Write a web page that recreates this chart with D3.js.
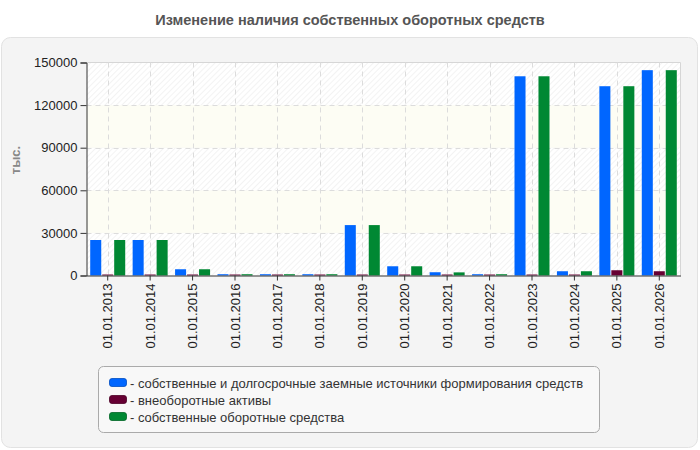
<!DOCTYPE html>
<html><head><meta charset="utf-8">
<script src="https://cdn.jsdelivr.net/npm/d3@7"></script>
<style>
html,body{margin:0;padding:0;background:#fff;}
text{font-family:"Liberation Sans",Arial,sans-serif;}
</style></head>
<body>
<svg id="chart" width="700" height="450"></svg>
<script>
const categories = ["01.01.2013","01.01.2014","01.01.2015","01.01.2016","01.01.2017","01.01.2018","01.01.2019","01.01.2020","01.01.2021","01.01.2022","01.01.2023","01.01.2024","01.01.2025","01.01.2026"];
const seriesNames = ["собственные и долгосрочные заемные источники формирования средств","внеоборотные активы","собственные оборотные средства"];
const seriesColors = ["#0066ff","#660033","#008833"];
const ownSources = [25000,25000,4400,900,900,900,35500,6500,2300,900,140300,3000,133300,144600];
const nonCurrent = [700,700,700,700,700,700,700,700,700,700,700,700,3700,3000];
const ownWorking = [25000,25000,4400,900,900,900,35500,6500,2200,900,140300,3000,133300,144600];
const yTicks = [0,30000,60000,90000,120000,150000];
const title = "Изменение наличия собственных оборотных средств";
const yLabel = "тыс.";

const series = [ownSources, nonCurrent, ownWorking];
const svg = d3.select("#chart");
const m = {left:86.5, right:680.5, top:62.5, bottom:275.5};

// panel
svg.append("rect").attr("x",1.5).attr("y",37.5).attr("width",696).attr("height",410)
  .attr("rx",9).attr("fill","#f4f4f4").attr("stroke","#e2e2e2");

svg.append("text").attr("x",350).attr("y",25).attr("text-anchor","middle")
  .attr("font-size",14.5).attr("font-weight","bold").attr("fill","#555").text(title);

const defs = svg.append("defs");
const pat = defs.append("pattern").attr("id","hatch").attr("patternUnits","userSpaceOnUse")
  .attr("width",4).attr("height",4).attr("patternTransform","rotate(45)");
pat.append("rect").attr("width",4).attr("height",4).attr("fill","#ffffff");
pat.append("line").attr("x1",0).attr("y1",0).attr("x2",0).attr("y2",4)
  .attr("stroke","#ebebeb").attr("stroke-width",1.2);

const x0 = d3.scaleBand().domain(categories).range([m.left,m.right]).paddingInner(0.175).paddingOuter(0.0875);
const x1 = d3.scaleBand().domain([0,1,2]).range([0,x0.bandwidth()]).paddingInner(0.08);
const y = d3.scaleLinear().domain([0,150000]).range([m.bottom,m.top]);

// bands
for (let i=0;i<yTicks.length-1;i++){
  svg.append("rect").attr("x",m.left).attr("width",m.right-m.left)
    .attr("y",y(yTicks[i+1])).attr("height",y(yTicks[i])-y(yTicks[i+1]))
    .attr("fill", i%2===0 ? "url(#hatch)" : "#fdfdf4");
}
svg.append("path").attr("d",`M${m.left},${m.top}H${m.right}V${m.bottom}`)
  .attr("fill","none").attr("stroke","#d6d6d6");

// grid
const grid = svg.append("g");
yTicks.slice(1,-1).forEach(t=>{
  grid.append("line").attr("x1",m.left).attr("x2",m.right).attr("y1",Math.round(y(t))+0.5).attr("y2",Math.round(y(t))+0.5)
   .attr("stroke","#dcdcdc").attr("stroke-dasharray","5,4");
});
categories.forEach(c=>{
  const cx = Math.round(x0(c)+x0.bandwidth()/2)+0.5;
  grid.append("line").attr("x1",cx).attr("x2",cx).attr("y1",m.top).attr("y2",m.bottom)
   .attr("stroke","#dcdcdc").attr("stroke-dasharray","5,4");
});

// bars
series.forEach((vals,si)=>{
  svg.append("g").selectAll("rect").data(vals).join("rect")
    .attr("x",(d,i)=>x0(categories[i])+x1(si))
    .attr("width",x1.bandwidth())
    .attr("y",d=>y(d)).attr("height",d=>m.bottom-y(d))
    .attr("fill",seriesColors[si]);
});

// axes
const yAxis = svg.append("g").attr("transform",`translate(${m.left},0)`)
  .call(d3.axisLeft(y).tickValues(yTicks).tickSize(6).tickPadding(3).tickFormat(d3.format("d")));
yAxis.select(".domain").attr("stroke","#333");
yAxis.selectAll(".tick line").attr("stroke","#333");
yAxis.selectAll("text").attr("font-size",13).attr("fill","#222").attr("font-family","Liberation Sans, Arial, sans-serif");

const xAxis = svg.append("g").attr("transform",`translate(0,${m.bottom})`)
  .call(d3.axisBottom(x0).tickSize(5).tickSizeOuter(0));
xAxis.select(".domain").attr("stroke","#333");
xAxis.selectAll(".tick line").attr("stroke","#333");
xAxis.selectAll("text").attr("font-size",13).attr("fill","#222")
  .attr("font-family","Liberation Sans, Arial, sans-serif")
  .attr("transform","rotate(-90)").attr("text-anchor","end")
  .attr("x",-8).attr("y",0).attr("dy","0.35em");

svg.append("text").attr("transform","translate(20,160) rotate(-90)").attr("text-anchor","middle")
  .attr("font-size",13).attr("font-weight","bold").attr("fill","#888").text(yLabel);

// legend
const lg = svg.append("g");
lg.append("rect").attr("x",98.5).attr("y",366.5).attr("width",501).attr("height",66).attr("rx",5)
  .attr("fill","#f8f8f8").attr("stroke","#aaa");
seriesNames.forEach((n,i)=>{
  const yy = 383 + i*17;
  lg.append("rect").attr("x",109.5).attr("y",yy-4.5).attr("width",17).attr("height",8).attr("rx",2.5)
    .attr("fill",seriesColors[i]).attr("stroke",d3.color(seriesColors[i]).darker(0.8)).attr("stroke-width",0.8);
  lg.append("text").attr("x",130).attr("y",yy).attr("dy","0.35em").attr("font-size",13)
    .attr("fill","#333").text("- "+n);
});
</script>
</body></html>
